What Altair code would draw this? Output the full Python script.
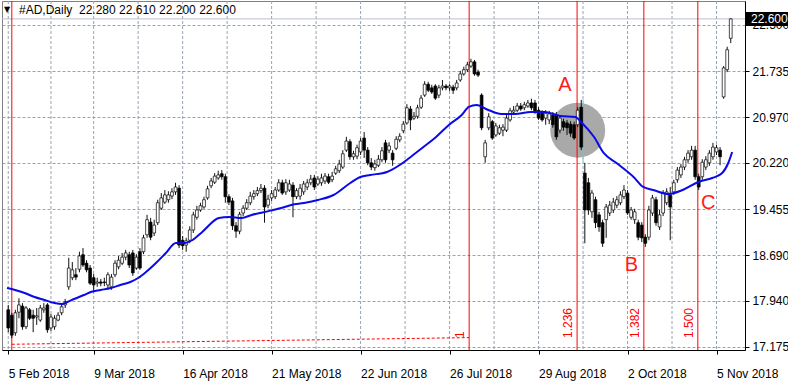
import altair as alt
import pandas as pd

symbol = "#AD"
timeframe = "Daily"

opens = [
    17.79, 17.70, 17.41, 17.75, 17.85, 17.51, 17.79, 17.70, 17.67, 17.62,
    17.79, 17.87, 17.49, 17.51, 17.62, 17.74, 17.87, 18.17, 18.32, 18.37,
    18.46, 18.70, 18.56, 18.48, 18.32, 18.23, 18.25, 18.25, 18.20, 18.17,
    18.37, 18.50, 18.56, 18.66, 18.70, 18.73, 18.48, 18.75, 18.75, 19.03,
    19.24, 19.06, 19.23, 19.47, 19.57, 19.61, 19.67, 19.74, 19.80, 18.94,
    18.86, 18.94, 19.11, 19.32, 19.44, 19.49, 19.64, 19.84, 19.90, 19.97,
    20.04, 19.99, 19.66, 19.59, 19.18, 19.09, 19.39, 19.47, 19.56, 19.66,
    19.71, 19.76, 19.80, 19.52, 19.64, 19.66, 19.77, 19.89, 19.74, 19.77,
    19.85, 19.66, 19.67, 19.74, 19.82, 19.89, 19.97, 19.87, 19.89, 19.92,
    19.99, 19.94, 20.05, 20.09, 20.15, 20.43, 20.57, 20.32, 20.33, 20.40,
    20.63, 20.43, 20.22, 20.14, 20.18, 20.27, 20.55, 20.43, 20.38, 20.46,
    20.60, 20.75, 20.88, 21.11, 20.96, 20.99, 21.14, 21.34, 21.52, 21.46,
    21.49, 21.34, 21.46, 21.49, 21.46, 21.47, 21.46, 21.59, 21.69, 21.76,
    21.82, 21.89, 21.72, 21.34, 20.32, 20.80, 20.90, 20.68, 20.71, 20.76,
    20.76, 20.93, 21.06, 21.09, 21.16, 21.13, 21.16, 21.21, 21.21, 21.09,
    21.04, 20.96, 20.93, 21.01, 21.01, 20.76, 20.90, 20.88, 20.86, 20.85,
    20.85, 21.14, 20.05, 19.89, 19.41, 19.61, 19.36, 19.23, 19.28, 19.39,
    19.44, 19.52, 19.56, 19.66, 19.72, 19.32, 19.28, 19.23, 19.19, 18.99,
    18.99, 19.39, 19.61, 19.16, 19.39, 19.56, 19.69, 19.74, 19.94, 20.02,
    20.15, 20.27, 20.32, 20.43, 19.99, 19.99, 20.15, 20.22, 20.32, 20.40,
    20.43, 21.31, 21.76, 22.28,
]
highs = [
    17.87, 17.74, 17.79, 17.98, 17.90, 17.85, 17.82, 17.79, 17.82, 17.87,
    17.90, 17.90, 17.72, 17.70, 17.75, 17.89, 17.97, 18.65, 18.58, 18.48,
    18.75, 18.81, 18.61, 18.53, 18.38, 18.32, 18.30, 18.32, 18.41, 18.38,
    18.61, 18.68, 18.73, 18.78, 18.75, 18.78, 18.71, 18.81, 19.03, 19.36,
    19.31, 19.28, 19.61, 19.72, 19.77, 19.75, 19.80, 19.89, 19.85, 19.01,
    18.98, 19.17, 19.41, 19.51, 19.56, 19.66, 19.84, 19.97, 20.05, 20.09,
    20.10, 20.04, 19.70, 19.64, 19.24, 19.41, 19.52, 19.62, 19.74, 19.77,
    19.82, 19.87, 19.85, 19.69, 19.77, 19.82, 19.95, 19.94, 19.95, 19.94,
    19.90, 19.80, 19.87, 19.92, 19.95, 20.02, 20.02, 20.00, 20.04, 20.05,
    20.04, 20.07, 20.17, 20.27, 20.43, 20.65, 20.61, 20.42, 20.52, 20.63,
    20.73, 20.48, 20.30, 20.27, 20.35, 20.48, 20.60, 20.56, 20.43, 20.66,
    20.71, 20.91, 21.19, 21.16, 21.06, 21.18, 21.34, 21.57, 21.56, 21.51,
    21.52, 21.51, 21.59, 21.52, 21.52, 21.51, 21.59, 21.74, 21.81, 21.89,
    21.94, 21.92, 21.76, 21.37, 20.60, 21.04, 20.93, 20.88, 20.85, 20.86,
    21.01, 21.13, 21.16, 21.21, 21.21, 21.23, 21.26, 21.28, 21.26, 21.14,
    21.09, 21.09, 21.08, 21.06, 21.06, 20.99, 20.95, 20.93, 20.91, 20.90,
    21.14, 21.26, 20.22, 19.97, 19.77, 19.66, 19.41, 19.28, 19.54, 19.59,
    19.64, 19.67, 19.75, 19.85, 19.77, 19.49, 19.46, 19.28, 19.24, 19.04,
    19.51, 19.69, 19.66, 19.44, 19.77, 19.80, 19.82, 19.94, 20.15, 20.20,
    20.32, 20.43, 20.50, 20.50, 20.04, 20.28, 20.33, 20.43, 20.55, 20.52,
    20.48, 21.82, 22.14, 22.61,
]
lows = [
    17.42, 17.32, 17.36, 17.65, 17.46, 17.47, 17.62, 17.42, 17.54, 17.59,
    17.74, 17.41, 17.44, 17.46, 17.60, 17.70, 17.82, 18.12, 18.28, 18.28,
    18.41, 18.50, 18.41, 18.20, 18.08, 18.17, 18.18, 18.18, 18.15, 18.12,
    18.33, 18.46, 18.53, 18.61, 18.48, 18.35, 18.45, 18.45, 18.71, 18.98,
    18.94, 19.01, 19.19, 19.44, 19.54, 19.56, 19.62, 19.69, 18.81, 18.78,
    18.75, 18.89, 19.06, 19.28, 19.41, 19.46, 19.61, 19.80, 19.87, 19.94,
    19.94, 19.56, 19.52, 19.11, 18.98, 19.04, 19.34, 19.44, 19.52, 19.61,
    19.67, 19.72, 19.23, 19.47, 19.59, 19.62, 19.74, 19.69, 19.69, 19.74,
    19.32, 19.62, 19.61, 19.69, 19.77, 19.85, 19.77, 19.84, 19.84, 19.87,
    19.87, 19.90, 20.02, 20.05, 20.12, 20.40, 20.27, 20.27, 20.28, 20.35,
    20.30, 20.18, 20.10, 20.09, 20.15, 20.23, 20.22, 20.38, 20.17, 20.43,
    20.56, 20.71, 20.85, 20.76, 20.93, 20.95, 21.11, 21.31, 21.39, 21.36,
    21.26, 21.29, 21.42, 21.42, 21.41, 21.36, 21.42, 21.56, 21.66, 21.72,
    21.79, 21.66, 21.64, 20.76, 20.22, 20.76, 20.60, 20.65, 20.68, 20.66,
    20.73, 20.90, 21.01, 21.06, 21.08, 21.09, 21.13, 21.09, 21.03, 20.93,
    20.90, 20.85, 20.86, 20.80, 20.60, 20.71, 20.75, 20.68, 20.65, 20.60,
    20.81, 20.43, 18.89, 19.36, 19.31, 19.14, 19.08, 18.83, 18.98, 19.34,
    19.39, 19.47, 19.52, 19.62, 19.36, 19.28, 19.21, 18.94, 18.91, 18.83,
    18.94, 19.34, 19.18, 19.11, 19.34, 19.52, 18.94, 19.69, 19.89, 19.97,
    20.10, 20.22, 20.27, 19.94, 19.77, 19.94, 20.10, 20.17, 20.27, 20.35,
    20.18, 21.28, 21.72, 22.20,
]
closes = [
    17.49, 17.37, 17.74, 17.87, 17.51, 17.82, 17.65, 17.65, 17.69, 17.82,
    17.82, 17.46, 17.67, 17.65, 17.70, 17.84, 17.92, 18.48, 18.45, 18.33,
    18.68, 18.53, 18.45, 18.23, 18.20, 18.25, 18.23, 18.24, 18.37, 18.33,
    18.56, 18.61, 18.66, 18.73, 18.53, 18.40, 18.66, 18.48, 18.98, 19.28,
    18.99, 19.19, 19.56, 19.64, 19.69, 19.69, 19.74, 19.82, 18.86, 18.85,
    18.93, 19.11, 19.36, 19.44, 19.51, 19.61, 19.79, 19.92, 20.00, 20.02,
    19.99, 19.66, 19.57, 19.18, 19.09, 19.37, 19.47, 19.56, 19.67, 19.71,
    19.76, 19.80, 19.49, 19.62, 19.71, 19.77, 19.89, 19.72, 19.89, 19.87,
    19.66, 19.76, 19.80, 19.87, 19.89, 19.95, 19.82, 19.95, 19.97, 20.00,
    19.90, 20.00, 20.12, 20.20, 20.37, 20.58, 20.32, 20.37, 20.47, 20.58,
    20.43, 20.22, 20.15, 20.20, 20.28, 20.42, 20.27, 20.50, 20.27, 20.61,
    20.66, 20.86, 21.13, 20.93, 20.99, 21.13, 21.29, 21.52, 21.42, 21.39,
    21.29, 21.46, 21.49, 21.46, 21.49, 21.42, 21.54, 21.69, 21.76, 21.84,
    21.89, 21.69, 21.67, 20.80, 20.55, 20.98, 20.63, 20.83, 20.80, 20.81,
    20.96, 21.08, 21.09, 21.16, 21.11, 21.18, 21.21, 21.13, 21.06, 20.96,
    20.93, 21.04, 21.03, 20.85, 20.65, 20.96, 20.81, 20.80, 20.71, 20.63,
    21.09, 20.48, 19.44, 19.44, 19.72, 19.23, 19.16, 18.89, 19.49, 19.52,
    19.57, 19.61, 19.69, 19.77, 19.39, 19.44, 19.41, 18.99, 18.98, 18.89,
    19.44, 19.64, 19.23, 19.36, 19.72, 19.74, 19.49, 19.89, 20.10, 20.15,
    20.27, 20.38, 20.43, 19.99, 19.82, 20.23, 20.27, 20.38, 20.48, 20.47,
    20.32, 21.79, 22.09, 22.60,
]

# moving average (bar index, price)
ma_bars = [
    -0.35, 1.9, 4.6, 7.4, 10.2, 13.0, 15.2, 16.6, 18.5, 21.3,
    23.2, 26.0, 28.8, 31.5, 34.3, 36.5, 38.7, 41.5, 44.3, 47.1,
    49.5, 51.8, 54.5, 59.2, 62.0, 65.6, 68.4, 72.0, 76.7, 79.5,
    83.1, 87.0, 91.4, 96.1, 98.9, 101.7, 106.4, 110.0, 112.7, 116.3,
    120.2, 123.8, 127.4, 129.4, 131.6, 134.9, 138.5, 142.4, 146.8, 150.7,
    155.1, 159.3, 161.2, 164.6, 167.3, 170.9, 175.7, 178.4, 181.2, 185.6,
    189.5, 193.9, 197.8, 200.6, 202.3, 203.4,
]
ma_values = [
    18.150, 18.117, 18.068, 18.001, 17.952, 17.902, 17.886, 17.919, 17.968, 18.035,
    18.084, 18.117, 18.150, 18.200, 18.250, 18.316, 18.415, 18.564, 18.729, 18.895,
    18.895, 18.944, 19.077, 19.308, 19.325, 19.308, 19.358, 19.407, 19.473, 19.523,
    19.556, 19.606, 19.688, 19.887, 19.986, 20.019, 20.069, 20.184, 20.300, 20.466,
    20.647, 20.846, 21.011, 21.144, 21.177, 21.094, 21.028, 21.028, 21.061, 21.061,
    20.995, 20.978, 20.879, 20.647, 20.383, 20.217, 19.986, 19.821, 19.771, 19.705,
    19.771, 19.903, 19.969, 20.052, 20.217, 20.399,
]

date_labels = ["5 Feb 2018", "9 Mar 2018", "16 Apr 2018", "21 May 2018", "22 Jun 2018",
               "26 Jul 2018", "29 Aug 2018", "2 Oct 2018", "5 Nov 2018"]
date_label_bars = [0, 24, 49, 74, 99, 124, 149, 174, 199]
price_levels = [17.175, 17.940, 18.690, 19.455, 20.220, 20.970, 21.735, 22.500]

fib_anchor_bars = [1, 129.5]
fib_anchor_prices = [17.22, 17.33]
fib_ratios = [0, 1, 1.236, 1.382, 1.5]
fib_texts = ["", "1", "1.236", "1.382", "1.500"]

wave_labels = ["A", "B", "C"]
wave_bars = [156.4, 175.1, 196.7]
wave_prices = [21.51, 18.53, 19.56]

zone_bar = 160.0
zone_price = 20.76
zone_grid_bar = 161.5
zone_price_span = [20.25, 21.27]

# ---------------------------------------------------------------------------
FONT = "Liberation Sans"
GRID = "#98a4b2"
xs = alt.Scale(domain=[-0.35, 205.6], nice=False, zero=False)
ys = alt.Scale(domain=[17.125, 22.896], nice=False, zero=False)

n = len(closes)
candles = pd.DataFrame({"bar": list(range(n)), "o": opens, "h": highs, "l": lows, "c": closes})
ma_df = pd.DataFrame({"bar": ma_bars, "ma": ma_values})

mids = [(a + b) / 2 for a, b in zip(date_label_bars[:-1], date_label_bars[1:])]
grid_df = pd.DataFrame({"bar": sorted(date_label_bars + mids)})

span = fib_anchor_bars[1] - fib_anchor_bars[0]
fib_df = pd.DataFrame({"bar": [fib_anchor_bars[0] + r * span for r in fib_ratios], "txt": fib_texts})
fib_base = pd.DataFrame({"bar": fib_anchor_bars, "p": fib_anchor_prices})
waves = pd.DataFrame({"bar": wave_bars, "p": wave_prices, "t": wave_labels})

label_arr = "[" + ",".join("'%s'" % s for s in date_labels) + "]"
bar_arr = "[" + ",".join(str(b) for b in date_label_bars) + "]"

x_axis = alt.Axis(values=date_label_bars, labelExpr=f"{label_arr}[indexof({bar_arr}, datum.value)]",
                  labelAlign="left", labelFlush=False, labelOverlap=False, labelBound=False,
                  tickSize=4, tickColor="black", domainColor="black", grid=False,
                  labelPadding=19, labelFont=FONT, labelFontSize=12, labelColor="black",
                  labelBaseline="middle", title=None)
y_axis = alt.Axis(orient="right", values=price_levels, format=".3f", tickSize=4, tickColor="black",
                  domainColor="black", grid=True, gridColor=GRID, gridDash=[3, 2], gridWidth=1,
                  labelPadding=3, labelFont=FONT, labelFontSize=12, labelColor="black",
                  labelOverlap=False, labelFlush=False, title=None)


def X(field):
    return alt.X(field, scale=xs, axis=x_axis)


def Y(field):
    return alt.Y(field, scale=ys, axis=y_axis)


vgrid = alt.Chart(grid_df).mark_rule(color=GRID, strokeDash=[3, 2], strokeWidth=1).encode(x=X("bar:Q"))

bid = alt.Chart(pd.DataFrame({"p": [closes[-1]]})).mark_rule(color="#b8c0cc", strokeWidth=1).encode(y=Y("p:Q"))

zone = alt.Chart(pd.DataFrame({"bar": [zone_bar], "p": [zone_price]})).mark_point(
    shape="circle", filled=True, size=3019, color="#a9a9a9", opacity=1).encode(x=X("bar:Q"), y=Y("p:Q"))

zone_grid = alt.Chart(pd.DataFrame({"bar": [zone_grid_bar], "p1": [zone_price_span[0]], "p2": [zone_price_span[1]]})).mark_rule(
    color="#5fd0d0", strokeDash=[3, 2], strokeWidth=1).encode(x=X("bar:Q"), y=Y("p1:Q"), y2="p2:Q")

fib_lines = alt.Chart(fib_df).mark_rule(color="#ff0000", strokeWidth=1).encode(x=X("bar:Q"))

fib_baseline = alt.Chart(fib_base).mark_line(color="#ff0000", strokeDash=[3, 2], strokeWidth=1).encode(
    x=X("bar:Q"), y=Y("p:Q"))

fib_text = alt.Chart(fib_df).transform_filter("datum.txt != ''").mark_text(
    angle=270, align="left", baseline="bottom", dy=-2, color="#ff0000", font=FONT, fontSize=12).encode(
    x=X("bar:Q"), y=alt.value(337), text="txt:N")

wicks = alt.Chart(candles).mark_rule(color="#111111", strokeWidth=1).encode(
    x=X("bar:Q"), y=Y("l:Q"), y2="h:Q")

bodies = alt.Chart(candles).mark_bar(width=2.8, stroke="black", strokeWidth=0.7).encode(
    x=X("bar:Q"), y=Y("o:Q"), y2="c:Q",
    fill=alt.when("datum.c >= datum.o").then(alt.value("white")).otherwise(alt.value("black")))

ma_line = alt.Chart(ma_df).mark_line(color="#0a0ae8", strokeWidth=2, interpolate="monotone").encode(
    x=X("bar:Q"), y=Y("ma:Q"))

wave_text = alt.Chart(waves).mark_text(color="#ff1a1a", font=FONT, fontSize=20, baseline="middle", align="center").encode(
    x=X("bar:Q"), y=Y("p:Q"), text="t:N")

header_str = f"{symbol},{timeframe}\u00a0\u00a0{opens[-1]:.3f} {highs[-1]:.3f} {lows[-1]:.3f} {closes[-1]:.3f}"
header = alt.Chart(pd.DataFrame({"t": [header_str]})).mark_text(
    align="left", baseline="middle", font=FONT, fontSize=12, color="black").encode(
    x=alt.value(17), y=alt.value(9), text="t:N")
tri = alt.Chart(pd.DataFrame({"t": ["▼"]})).mark_text(
    align="center", baseline="middle", font="DejaVu Sans", fontSize=8, color="black").encode(
    x=alt.value(5), y=alt.value(9), text="t:N")

tag_df = pd.DataFrame({"p": [closes[-1]], "t": [f"{closes[-1]:.3f}"]})
tag_box = alt.Chart(tag_df).mark_point(
    shape="M-1,-0.3333L1,-0.3333L1,0.3333L-1,0.3333Z", filled=True, size=1764, color="black", opacity=1).encode(
    x=alt.value(765), y=Y("p:Q"))
tag_text = alt.Chart(tag_df).mark_text(align="left", baseline="middle", font=FONT, fontSize=12, color="white").encode(
    x=alt.value(749), y=Y("p:Q"), text="t:N")

chart = alt.layer(
    vgrid, bid, zone, zone_grid, fib_lines, fib_baseline, fib_text,
    wicks, bodies, ma_line, wave_text, header, tri, tag_box, tag_text
).properties(
    width=743, height=349,
    autosize=alt.AutoSizeParams(type="none"),
    padding={"left": 2, "top": 1, "right": 43, "bottom": 39},
    background="white",
).configure_view(stroke="#808080", strokeWidth=1)

chart.save("out.html", embed_options={"renderer": "svg", "actions": False})
